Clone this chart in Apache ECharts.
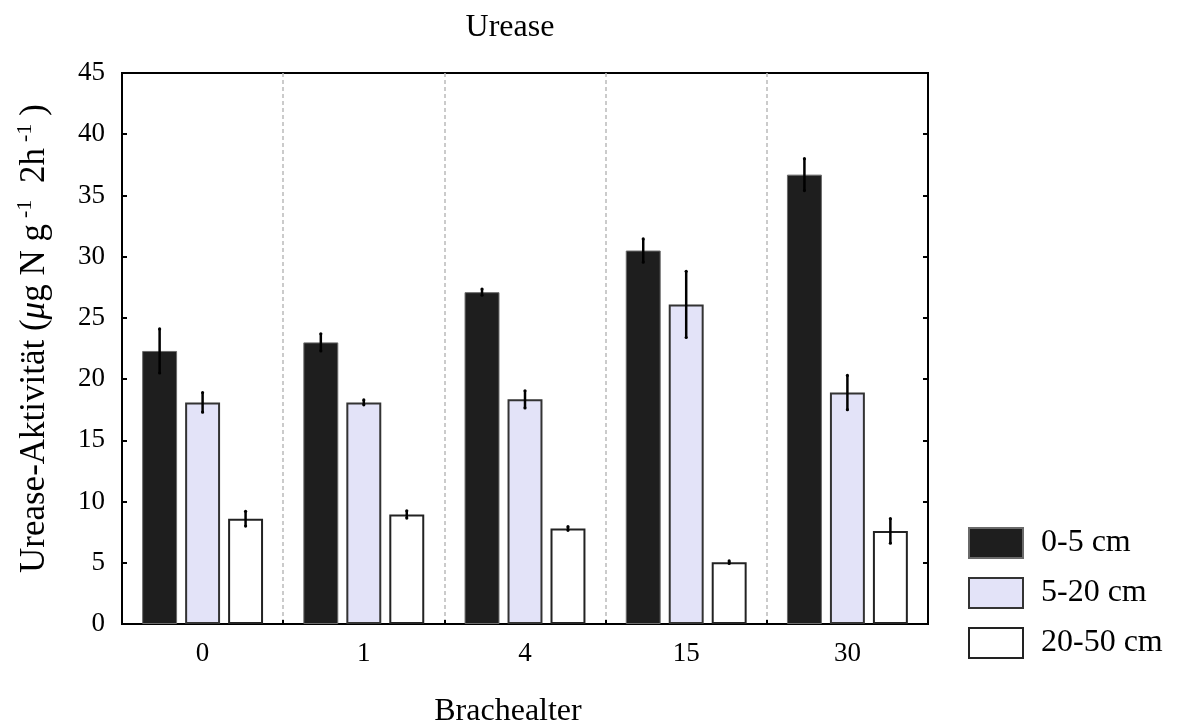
<!DOCTYPE html>
<html>
<head>
<meta charset="utf-8">
<script src="https://cdn.jsdelivr.net/npm/echarts@6/dist/echarts.min.js"></script>
<style>html,body{margin:0;padding:0;background:#fff}#c{width:1178px;height:723px}</style>
</head>
<body>
<div id="c"></div>
<script>
const categories = ['0', '1', '4', '15', '30'];
const seriesNames = ['0-5 cm', '5-20 cm', '20-50 cm'];
const depth0to5 = [22.3, 23.0, 27.1, 30.5, 36.7];
const depth5to20 = [18.1, 18.1, 18.35, 26.1, 18.9];
const depth20to50 = [8.6, 8.95, 7.8, 5.05, 7.6];
const err0to5 = [1.8, 0.7, 0.25, 0.95, 1.3];
const err5to20 = [0.8, 0.2, 0.7, 2.7, 1.4];
const err20to50 = [0.6, 0.3, 0.15, 0.1, 1.0];
const yTicks = [0, 5, 10, 15, 20, 25, 30, 35, 40, 45];

const FONT = '"Liberation Serif", "Times New Roman", serif';
const values = [depth0to5, depth5to20, depth20to50];
const errors = [err0to5, err5to20, err20to50];
const CAT_GAP = 0.25, BAR_GAP = 0.23;

const chart = echarts.init(document.getElementById('c'));

const barStyles = [
  { color: '#1e1e1e', borderColor: '#6a6a6a', borderWidth: 1 },
  { color: '#e3e3f8', borderColor: '#333333', borderWidth: 2 },
  { color: '#ffffff', borderColor: '#222222', borderWidth: 2 }
];

const barSeries = seriesNames.map((n, i) => ({
  name: n,
  type: 'bar',
  data: values[i],
  barCategoryGap: (CAT_GAP * 100) + '%',
  barGap: (BAR_GAP * 100) + '%',
  itemStyle: barStyles[i],
  emphasis: { disabled: true },
  z: 2
}));

const errSeries = seriesNames.map((n, i) => ({
  name: n + ' err',
  type: 'custom',
  data: values[i].map((v, k) => [k, v, errors[i][k]]),
  z: 5,
  renderItem: function (params, api) {
    const k = api.value(0), v = api.value(1), e = api.value(2);
    const catW = api.size([1, 0])[0];
    const barW = catW * (1 - CAT_GAP) / (3 + 2 * BAR_GAP);
    const off = (i - 1) * barW * (1 + BAR_GAP);
    const p1 = api.coord([k, v + e]);
    const p2 = api.coord([k, v - e]);
    return {
      type: 'group',
      children: [
        { type: 'line', shape: { x1: p1[0] + off, y1: p1[1], x2: p2[0] + off, y2: p2[1] },
          style: { stroke: '#000', lineWidth: 2.5 } },
        { type: 'circle', shape: { cx: p1[0] + off, cy: p1[1], r: 1.6 }, style: { fill: '#000' } },
        { type: 'circle', shape: { cx: p2[0] + off, cy: p2[1], r: 1.6 }, style: { fill: '#000' } }
      ]
    };
  }
}));

chart.setOption({
  animation: false,
  backgroundColor: '#fff',
  title: {
    text: 'Urease',
    left: 505,
    top: 7,
    textAlign: 'center',
    textStyle: { fontFamily: FONT, fontSize: 32, fontWeight: 'normal', color: '#000' }
  },
  grid: { left: 122, right: 250, top: 73, bottom: 99, containLabel: false, outerBoundsMode: 'none',
    show: true, borderColor: '#000', borderWidth: 2, backgroundColor: 'transparent' },
  legend: {
    data: seriesNames,
    orient: 'vertical',
    left: 963,
    top: 521,
    icon: 'rect',
    itemWidth: 54,
    itemHeight: 30,
    itemGap: 16,
    selectedMode: false,
    textStyle: { fontFamily: FONT, fontSize: 32, color: '#000', lineHeight: 30, padding: [4, 0, 0, 13] }
  },
  xAxis: {
    type: 'category',
    data: categories,
    name: 'Brachealter',
    nameLocation: 'middle',
    nameGap: 72,
    nameTextStyle: { fontFamily: FONT, fontSize: 32, color: '#000', padding: [0, 34, 0, 0] },
    axisLine: { lineStyle: { color: '#000', width: 2 } },
    axisTick: { show: true, inside: true, length: 4, lineStyle: { color: '#000', width: 2 } },
    axisLabel: { fontFamily: FONT, fontSize: 27, color: '#000', margin: 16 },
    splitLine: { show: true, lineStyle: { color: '#bbbbbb', type: [4, 3], width: 1.5 } }
  },
  yAxis: [{
    type: 'value',
    min: 0, max: 45, interval: 5,
    name: '{s|Urease-Aktivität (}{it|μ}{n|g N g}{sup|-1}{n| 2h}{sup|-1}{n|)}',
    nameLocation: 'middle',
    nameGap: 70,
    nameTextStyle: {
      fontFamily: FONT, fontSize: 35, color: '#000',
      rich: {
        s: { fontFamily: FONT, fontSize: 35, color: '#000', lineHeight: 38, verticalAlign: 'bottom', padding: [0, 0, 0, 20] },
        n: { fontFamily: FONT, fontSize: 35, color: '#000', lineHeight: 38, verticalAlign: 'bottom' },
        it: { fontFamily: FONT, fontSize: 35, fontStyle: 'italic', color: '#000', lineHeight: 38, verticalAlign: 'bottom' },
        sup: { fontFamily: FONT, fontSize: 22, color: '#000', lineHeight: 22, verticalAlign: 'top', padding: [0, 8, 0, 6] }
      }
    },
    axisLine: { show: true, lineStyle: { color: '#000', width: 2 } },
    axisTick: { show: true, inside: true, length: 5, lineStyle: { color: '#000', width: 2 } },
    axisLabel: { fontFamily: FONT, fontSize: 27, color: '#000', margin: 17,
      formatter: v => yTicks.indexOf(v) >= 0 ? String(v) : '' },
    splitLine: { show: false }
  }, {
    type: 'value',
    position: 'right',
    min: 0, max: 45, interval: 5,
    axisLine: { show: true, lineStyle: { color: '#000', width: 2 } },
    axisTick: { show: true, inside: true, length: 5, lineStyle: { color: '#000', width: 2 } },
    axisLabel: { show: false },
    splitLine: { show: false }
  }],
  series: barSeries.concat(errSeries)
});
</script>
</body>
</html>
